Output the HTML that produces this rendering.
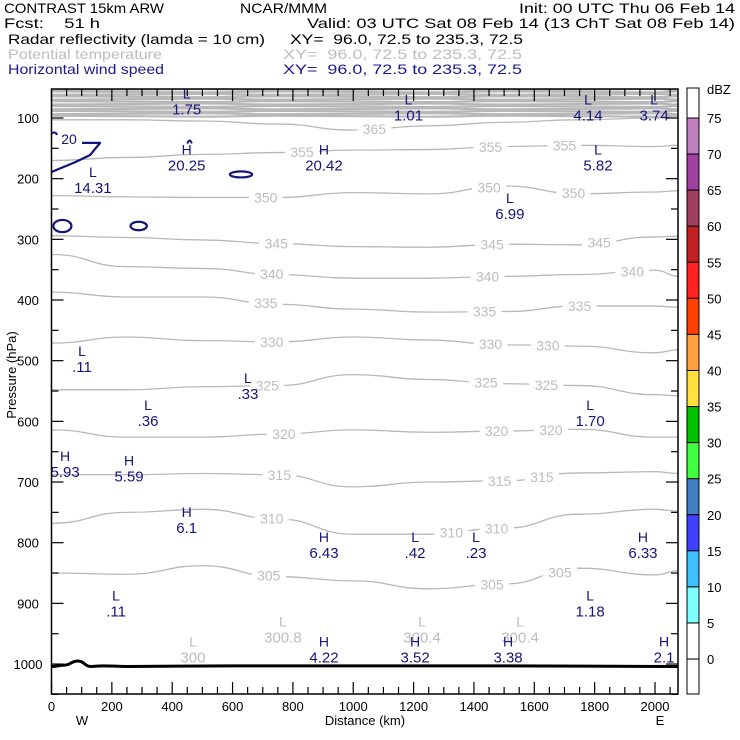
<!DOCTYPE html>
<html><head><meta charset="utf-8">
<style>
html,body{margin:0;padding:0;background:#fff;}
svg{display:block;font-family:"Liberation Sans",sans-serif;}
</style></head>
<body>
<svg id="chart" width="740" height="740" viewBox="0 0 740 740" xmlns="http://www.w3.org/2000/svg">
<g font-size="14">
<text x="4" y="13" textLength="160" lengthAdjust="spacingAndGlyphs">CONTRAST 15km ARW</text>
<text x="240" y="13" textLength="87" lengthAdjust="spacingAndGlyphs">NCAR/MMM</text>
<text x="519" y="13" textLength="216" lengthAdjust="spacingAndGlyphs">Init: 00 UTC Thu 06 Feb 14</text>
<text x="4" y="28" textLength="96" lengthAdjust="spacingAndGlyphs" xml:space="preserve">Fcst:    51 h</text>
<text x="307" y="28" textLength="428" lengthAdjust="spacingAndGlyphs">Valid: 03 UTC Sat 08 Feb 14 (13 ChT Sat 08 Feb 14)</text>
<text x="8" y="44" textLength="257" lengthAdjust="spacingAndGlyphs">Radar reflectivity (lamda = 10 cm)</text>
<text x="290" y="44" textLength="233" lengthAdjust="spacingAndGlyphs" xml:space="preserve">XY=  96.0, 72.5 to 235.3, 72.5</text>
<text x="8" y="59" fill="#bdbdbd" textLength="154" lengthAdjust="spacingAndGlyphs">Potential temperature</text>
<text x="283" y="59" fill="#bdbdbd" textLength="239" lengthAdjust="spacingAndGlyphs" xml:space="preserve">XY=  96.0, 72.5 to 235.3, 72.5</text>
<text x="8" y="74" fill="#1a1a8c" textLength="156" lengthAdjust="spacingAndGlyphs">Horizontal wind speed</text>
<text x="283" y="74" fill="#1a1a8c" textLength="239" lengthAdjust="spacingAndGlyphs" xml:space="preserve">XY=  96.0, 72.5 to 235.3, 72.5</text>
</g>
<g id="plot"></g>
<g id="axes" font-size="13"></g>
<g id="cbar" font-size="13"></g>
</svg>
<script>
// ---- data ----
const kmGrid = [0, 250, 500, 750, 1000, 1250, 1500, 1750, 2000, 2080];
const thetaLevels = [365, 355, 350, 345, 340, 335, 330, 325, 320, 315, 310, 305];
const thetaP = [
 [103,103,105,110,120,113,107,103,100,100],
 [170,165,160,157,153,152,147,145,147,145],
 [228,230,231,231,223,225,212,225,222,220],
 [294,297,301,307,312,313,308,309,296,295],
 [325,345,348,358,364,364,361,358,351,361],
 [387,395,395,407,415,420,419,410,410,412],
 [471,461,467,469,461,466,474,476,487,482],
 [548,548,543,541,523,531,538,541,556,558],
 [614,626,626,621,614,618,616,613,626,626],
 [688,688,686,688,708,700,698,685,683,686],
 [768,750,745,761,786,786,776,753,745,748],
 [850,852,838,856,863,876,868,842,853,846]
];
const thetaLabelKm = [[1070],[830,1455,1700],[710,1450,1730],[745,1460,1815],[730,1445,1925],[710,1435,1750],[730,1455,1645],[715,1440,1640],[770,1475,1655],[755,1485,1625],[730,1325,1475],[720,1460,1685]];
const bandP = [53,57,61,65,69,73,77,81,85,89,93,97];
const groundKm = [0, 40, 88, 130, 170, 250, 600, 1440, 2080];
const groundP = [1004, 1002, 995, 1004, 1003, 1004, 1003, 1003, 1004];
const xTicks = [0,200,400,600,800,1000,1200,1400,1600,1800,2000];
const yTicks = [100,200,300,400,500,600,700,800,900,1000];
const dbzLevels = [75,70,65,60,55,50,45,40,35,30,25,20,15,10,5,0];
const dbzColors = ["#ffffff","#c080c0","#a040a0","#a04060","#c02020","#ff2020","#ff4000","#ffa040","#ffe040","#00c000","#40ff40","#4080c0","#4040ff","#40c0ff","#80ffff","#ffffff","#ffffff"];
// wind extrema labels: [type, value, km, pressure]
const windExtrema = [
 ["L","1.75",448,73],["L","1.01",1183,83],["L","4.14",1778,83],["L","3.74",1997,83],
 ["H","20.25",448,165],["H","20.42",903,165],["L","14.31",137,202],["L","5.82",1811,165],
 ["L","6.99",1519,245],["L",".11",101,497],["L",".33",651,542],["L",".36",320,586],
 ["L","1.70",1785,586],["H","5.93",45,670],["H","5.59",257,678],["H","6.1",448,763],
 ["H","6.43",903,804],["L",".42",1205,804],["L",".23",1407,804],["H","6.33",1960,804],
 ["L",".11",214,900],["L","1.18",1785,900],["H","4.22",903,976],["H","3.52",1205,976],
 ["H","3.38",1513,976],["H","2.1",2030,976]
];
const thetaExtrema = [["L","300",469,976],["L","300.8",767,943],["L","300.4",1228,943],["L","300.4",1553,943]];
// wind isotach (20 m/s) blobs: [km, hPa, half-width km, half-height hPa]
const windBlobs = [[36,278,30,10],[289,278,27,7],[628,193,37,5]];
const windPathKm = [0,78,128,161,101];
const windPathP = [189,173,161,141,141];
// ---- scales ----
const L=51.5,R=678,T=89,B=694;
const xS = km => 51.5 + km*0.30175;
const yS = p => 118 + (p-100)*0.6067;
const NS="http://www.w3.org/2000/svg";
function mk(tag, attrs, parent, txt){const e=document.createElementNS(NS,tag);for(const k in attrs)e.setAttribute(k,attrs[k]);if(txt!==undefined)e.textContent=txt;parent.appendChild(e);return e;}
const plot=document.getElementById('plot'), axes=document.getElementById('axes'), cbar=document.getElementById('cbar');
function interp(arrX, arrY, x){for(let i=0;i<arrX.length-1;i++){if(x<=arrX[i+1]){const t=(x-arrX[i])/(arrX[i+1]-arrX[i]);return arrY[i]+t*(arrY[i+1]-arrY[i]);}}return arrY[arrY.length-1];}
function smoothPath(xs, ys){let d=`M${xS(xs[0])},${yS(ys[0])}`;for(let i=1;i<xs.length;i++){const x0=xS(xs[i-1]),y0=yS(ys[i-1]),x1=xS(xs[i]),y1=yS(ys[i]);const mx=(x0+x1)/2;d+=` C${mx},${y0} ${mx},${y1} ${x1},${y1}`;}return d;}
function linePath(xs, ys){return xs.map((x,i)=>(i?'L':'M')+xS(x)+','+yS(ys[i])).join(' ');}
// clip
const defs=mk('defs',{},plot);const cp=mk('clipPath',{id:'clip'},defs);mk('rect',{x:L,y:T,width:R-L,height:B-T},cp);
const g=mk('g',{'clip-path':'url(#clip)'},plot);
// top stripe band
bandP.forEach((p,i)=>{
  const ys=kmGrid.map((k,j)=>p+((j%3)-1)*0.8*(i%2?1:-1));
  const el=mk('path',{d:smoothPath(kmGrid,ys),fill:'none',stroke:'#b8b8b8','stroke-width':2.2},g);
  
  
});
// theta contours
thetaLevels.forEach((lev,i)=>{
  const el=mk('path',{d:smoothPath(kmGrid,thetaP[i]),fill:'none',stroke:'#b8b8b8','stroke-width':1.3},g);
  
  
  thetaLabelKm[i].forEach(k=>{
    const p=interp(kmGrid,thetaP[i],k);
    mk('rect',{x:xS(k)-17,y:yS(p)-7,width:34,height:14,fill:'#fff'},g);
    const t=mk('text',{x:xS(k),y:yS(p)+5,'text-anchor':'middle',fill:'#bdbdbd','font-size':14},g,String(lev));
    
    
  });
});
// wind contours
const wp=mk('path',{d:linePath(windPathKm,windPathP),fill:'none',stroke:'#14147a','stroke-width':2.2,'stroke-linejoin':'round'},g);


mk('path',{d:`M${xS(0)},${yS(125)} Q${xS(15)},${yS(122)} ${xS(18)},${yS(128)}`,fill:'none',stroke:'#14147a','stroke-width':2},g);
const wl=mk('text',{x:xS(58),y:yS(135)+5,'text-anchor':'middle',fill:'#14147a','font-size':14},g,'20');


windBlobs.forEach(b=>{
  const el=mk('ellipse',{cx:xS(b[0]),cy:yS(b[1]),rx:b[2]*0.30175,ry:b[3]*0.6067,fill:'none',stroke:'#14147a','stroke-width':2.2},g);
  
  
});
mk('path',{d:`M${xS(450)},${yS(142)} Q${xS(458)},${yS(132)} ${xS(465)},${yS(142)}`,fill:'none',stroke:'#14147a','stroke-width':2},g);
// ground line
const gl=mk('path',{d:smoothPath(groundKm,groundP),fill:'none',stroke:'#000','stroke-width':3},g);


// extrema labels
function ext(list,color,nm){list.forEach(e=>{
  const x=xS(e[2]),y=yS(e[3]);
  const a=mk('text',{x:x,y:y-3,'text-anchor':'middle',fill:color,'font-size':14},g,e[0]);
  
  
  const b=mk('text',{x:x,y:y+13,'text-anchor':'middle',fill:color,'font-size':15},g,e[1]);
  
  
});}
ext(thetaExtrema,'#bdbdbd','theta-extremum');
ext(windExtrema,'#14147a','wind-extremum');
// frame
mk('rect',{x:L,y:T,width:R-L,height:B-T,fill:'none',stroke:'#000','stroke-width':1.5},axes);
// x ticks
for(let k=0;k<=2050;k+=50){
  const x=xS(k);const len=(k%200===0)?12:7;
  mk('line',{x1:x,y1:B,x2:x,y2:B-len,stroke:'#000','stroke-width':1.2},axes);
  mk('line',{x1:x,y1:T,x2:x,y2:T+len,stroke:'#000','stroke-width':1.2},axes);
}
xTicks.forEach(v=>{const t=mk('text',{x:xS(v),y:711,'text-anchor':'middle'},axes,String(v));
  
  });
for(let p=100;p<=1050;p+=50){
  const y=yS(p);const len=(p%100===0)?12:7;
  mk('line',{x1:L,y1:y,x2:L+len,y2:y,stroke:'#000','stroke-width':1.2},axes);
  mk('line',{x1:R,y1:y,x2:R-len,y2:y,stroke:'#000','stroke-width':1.2},axes);
}
yTicks.forEach(v=>{const t=mk('text',{x:28,y:yS(v)+5,'text-anchor':'middle'},axes,String(v));
  
  });
const xt=mk('text',{x:365,y:725,'text-anchor':'middle'},axes,'Distance (km)');


const yt=mk('text',{x:16,y:375,'text-anchor':'middle',transform:'rotate(-90 16 375)'},axes,'Pressure (hPa)');


const wt=mk('text',{x:82,y:725,'text-anchor':'middle'},axes,'W');


const et=mk('text',{x:660,y:725,'text-anchor':'middle'},axes,'E');


// colorbar
const cx=687,cw=12,ctop=88,cbot=694,step=36.07,y75=118;
dbzColors.forEach((c,i)=>{
  const y0=i===0?ctop:y75+(i-1)*step;
  const y1=i===dbzColors.length-1?cbot:y75+i*step;
  const r=mk('rect',{x:cx,y:y0,width:cw,height:y1-y0,fill:c,stroke:'#000','stroke-width':1},cbar);
  
  
});
dbzLevels.forEach((v,i)=>{const t=mk('text',{x:707,y:y75+i*step+5},cbar,String(v));
  
  });
const du=mk('text',{x:707,y:94},cbar,'dBZ');


</script>
</body></html>
